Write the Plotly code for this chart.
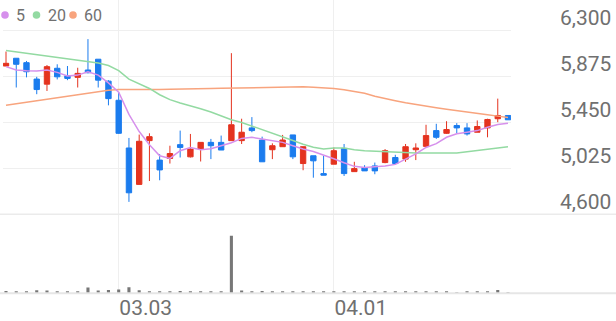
import plotly.graph_objects as go

# ---- data ----
idx = list(range(50))
opens = [5973, 6045, 6004, 5852, 5805, 5952, 5882, 5868, 5936, 6036,
         5833, 5656, 5214, 4877, 5282, 5102, 5117, 5245, 5132, 5204,
         5266, 5266, 5282, 5282, 5400, 5288, 5198, 5226, 5335, 5070,
         5142, 4977, 5064, 5210, 4995, 5033, 5048, 5079, 5126, 5111,
         5198, 5229, 5375, 5350, 5422, 5400, 5360, 5400, 5485, 5515]
highs = [6107, 6045, 6020, 5873, 5982, 5989, 5973, 5957, 6222, 6036,
         5842, 5733, 5307, 5338, 5350, 5158, 5235, 5375, 5344, 5266,
         5298, 5329, 6092, 5485, 5500, 5319, 5257, 5335, 5335, 5226,
         5142, 5142, 5219, 5251, 5086, 5055, 5079, 5204, 5151, 5251,
         5257, 5429, 5438, 5462, 5444, 5444, 5469, 5485, 5671, 5515]
lows = [5973, 5774, 5868, 5712, 5742, 5849, 5842, 5774, 5905, 5774,
        5609, 5344, 4715, 4877, 4908, 4915, 5070, 5126, 5126, 5089,
        5111, 5195, 5282, 5251, 5360, 5086, 5111, 5226, 5111, 5008,
        4939, 4962, 5064, 4955, 4995, 5002, 4971, 5073, 5064, 5086,
        5102, 5229, 5298, 5344, 5350, 5329, 5360, 5313, 5453, 5475]
closes = [5998, 5989, 5920, 5755, 5967, 5873, 5858, 5905, 5911, 5842,
          5671, 5350, 4799, 5276, 5319, 5011, 5163, 5219, 5204, 5266,
          5235, 5195, 5429, 5360, 5375, 5086, 5235, 5288, 5132, 5226,
          5095, 4962, 5189, 4977, 5023, 5002, 5002, 5189, 5070, 5226,
          5214, 5329, 5313, 5385, 5400, 5344, 5413, 5478, 5515, 5475]
ma5 = [5967, 5936, 5929, 5926, 5936, 5914, 5880, 5889, 5920, 5889,
       5817, 5730, 5525, 5366, 5245, 5142, 5117, 5189, 5219, 5198,
       5207, 5235, 5263, 5303, 5313, 5298, 5282, 5266, 5235, 5204,
       5182, 5151, 5114, 5077, 5044, 5033, 5037, 5048, 5062, 5111,
       5160, 5219, 5254, 5313, 5345, 5360, 5375, 5406, 5431, 5443]
ma20 = [6116, 6104, 6090, 6078, 6065, 6052, 6038, 6026, 6013, 6001,
        5978, 5931, 5852, 5810, 5765, 5707, 5662, 5630, 5607, 5578,
        5547, 5508, 5475, 5450, 5418, 5380, 5352, 5319, 5284, 5249,
        5221, 5204, 5214, 5214, 5198, 5189, 5184, 5179, 5173, 5167,
        5167, 5167, 5167, 5167, 5167, 5179, 5189, 5203, 5214, 5226]
ma60 = [5609, 5623, 5637, 5651, 5665, 5679, 5693, 5707, 5721, 5735,
        5749, 5755, 5754, 5754, 5755, 5756, 5758, 5758, 5760, 5762,
        5764, 5766, 5768, 5772, 5774, 5777, 5779, 5780, 5780, 5780,
        5777, 5772, 5765, 5754, 5740, 5721, 5693, 5670, 5651, 5632,
        5615, 5600, 5586, 5572, 5558, 5544, 5532, 5521, 5509, 5497]
volumes = [80000, 60000, 70000, 105000, 95000, 70000, 70000, 45000, 200000, 95000,
           115000, 130000, 210000, 105000, 60000, 60000, 60000, 80000, 60000, 60000,
           45000, 45000, 2010000, 95000, 70000, 80000, 50000, 45000, 45000, 50000,
           45000, 60000, 50000, 45000, 50000, 45000, 50000, 45000, 50000, 45000,
           50000, 60000, 45000, 70000, 35000, 45000, 60000, 60000, 115000, 5000]
x_tick_vals = [11, 32]
x_tick_text = ["03.03", "04.01"]
y_tick_vals = [4600, 5025, 5450, 5875, 6300]
legend_labels = ["5", "20", "60"]

# ---- styles ----
W, H = 616, 321
UP, DOWN = "#e4331f", "#1b7cee"
C5, C20, C60 = "#d690ec", "#93daa2", "#f8a47e"
GRID = "#efefef"
TXT = "#707070"
FONT = "Roboto"

x0_px, x1_px = 3, 511
step_px = 10.245
xa = -(6 - x0_px) / step_px
xb = xa + (x1_px - x0_px) / step_px
xr = [xa, xb]

price_bot_px, vol_base_px = 214.3, 293.3
yr_price = [4600, 6300 + 30.7 * (1700 / (214.3 - 30.7))]
yr_vol = [0, 2010000 * (vol_base_px - price_bot_px) / 57.6]

fig = go.Figure()
fig.add_trace(go.Candlestick(
    x=idx, open=opens, high=highs, low=lows, close=closes,
    increasing=dict(line=dict(color=UP, width=1), fillcolor=UP),
    decreasing=dict(line=dict(color=DOWN, width=1), fillcolor=DOWN),
    whiskerwidth=0, xaxis="x", yaxis="y", showlegend=False))
for vals, col in [(ma60, C60), (ma20, C20), (ma5, C5)]:
    fig.add_trace(go.Scatter(x=idx, y=vals, mode="lines",
                             line=dict(color=col, width=1.5),
                             xaxis="x", yaxis="y", showlegend=False))
fig.add_trace(go.Bar(x=idx, y=volumes, width=0.3, marker_color="#777777",
                     marker_line_width=0, xaxis="x2", yaxis="y2", showlegend=False))

dom_x = [x0_px / W, x1_px / W]
fig.update_layout(
    width=W, height=H, margin=dict(l=0, r=0, t=0, b=0),
    paper_bgcolor="white", plot_bgcolor="white",
    font=dict(family=FONT, color=TXT),
    boxgap=0.25,
    xaxis=dict(domain=dom_x, range=xr, anchor="y", tickvals=x_tick_vals,
               showticklabels=False, showgrid=True, gridcolor=GRID, gridwidth=1,
               zeroline=False, showline=False, rangeslider=dict(visible=False),
               fixedrange=True, automargin=False),
    yaxis=dict(domain=[1 - price_bot_px / H, 1], range=yr_price, side="right",
               anchor="x", tickvals=y_tick_vals, tickformat=",",
               tickfont=dict(size=21, color=TXT, family=FONT),
               ticklabelstandoff=48, ticklabelshift=-13, automargin=False,
               showgrid=True, gridcolor=GRID, gridwidth=1, zeroline=False,
               showline=False, ticks=""),
    xaxis2=dict(domain=dom_x, range=xr, anchor="y2", tickvals=x_tick_vals,
                ticktext=x_tick_text, tickfont=dict(size=21, color=TXT, family=FONT),
                ticklabelshift=27, automargin=False, showgrid=True, gridcolor=GRID,
                gridwidth=1, zeroline=False, showline=False, ticks=""),
    yaxis2=dict(domain=[1 - vol_base_px / H, 1 - price_bot_px / H], range=yr_vol,
                anchor="x2", showticklabels=False, showgrid=False, automargin=False,
                zeroline=False, showline=False),
)

# separator / baseline lines spanning the whole width
for ypx, w, c in [(price_bot_px, 1.5, "#ebebeb"), (vol_base_px, 2, "#e6e6e6")]:
    fig.add_shape(type="line", xref="paper", yref="paper", x0=0, x1=1,
                  y0=1 - ypx / H, y1=1 - ypx / H, line=dict(color=c, width=w))

# legend (dots + labels)
leg = [(5, 15, C5), (36.5, 47, C20), (73, 83, C60)]
for (cx, tx, col), lab in zip(leg, legend_labels):
    r = 3.8
    fig.add_shape(type="circle", xref="paper", yref="paper",
                  x0=(cx - r) / W, x1=(cx + r) / W,
                  y0=1 - (15 + r) / H, y1=1 - (15 - r) / H,
                  fillcolor=col, line=dict(width=0))
    fig.add_annotation(xref="paper", yref="paper", x=(tx - 1) / W, y=1 - 15 / H,
                       text=lab, showarrow=False, xanchor="left", yanchor="middle",
                       font=dict(size=16, color=TXT, family=FONT))

fig.write_html("out.html")
